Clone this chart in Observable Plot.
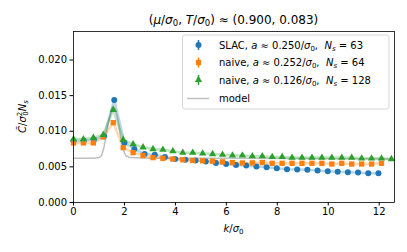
<!DOCTYPE html>
<html><head><meta charset="utf-8">
<script src="https://cdn.jsdelivr.net/npm/d3@7"></script>
<script src="https://cdn.jsdelivr.net/npm/@observablehq/plot@0.6"></script>
<style>body{margin:0;background:#fff}</style>
</head><body><div id="chart"></div>
<script>
// --- data ---
const slacK = [0,0.4,0.8,1.2,1.6,2.0,2.39,2.79,3.19,3.59,3.99,4.39,4.79,5.19,5.59,5.99,6.38,6.78,7.18,7.58,7.98,8.38,8.78,9.18,9.58,9.98,10.37,10.77,11.17,11.57,11.97];
const slacC = [0.0086,0.00868,0.00882,0.0093,0.0144,0.0084,0.0075,0.0068,0.0067,0.0064,0.0061,0.0060,0.00588,0.00574,0.00556,0.0054,0.00528,0.00518,0.00504,0.00494,0.0048,0.00468,0.00462,0.00458,0.00448,0.00438,0.0043,0.00424,0.0042,0.00412,0.0041];
const naive64K = [0,0.39,0.78,1.17,1.56,1.95,2.34,2.73,3.12,3.51,3.9,4.29,4.68,5.07,5.46,5.85,6.24,6.63,7.02,7.41,7.8,8.19,8.58,8.97,9.36,9.75,10.14,10.53,10.92,11.31,11.7,12.09];
const naive64C = [0.00836,0.00836,0.00836,0.0092,0.0112,0.0077,0.0070,0.0066,0.0063,0.0062,0.0061,0.0060,0.0059,0.00585,0.0058,0.0057,0.0056,0.00555,0.00556,0.0056,0.0055,0.0055,0.0055,0.0055,0.0055,0.0055,0.0054,0.0055,0.0054,0.0054,0.0054,0.0055];
const naive128K = [0,0.39,0.78,1.17,1.56,1.95,2.34,2.73,3.12,3.51,3.9,4.29,4.68,5.07,5.46,5.85,6.24,6.63,7.02,7.41,7.8,8.19,8.58,8.97,9.36,9.75,10.14,10.53,10.92,11.31,11.7,12.09,12.48];
const naive128C = [0.0089,0.0089,0.0091,0.0095,0.0130,0.0088,0.0082,0.00775,0.0075,0.0074,0.0072,0.0070,0.0070,0.0069,0.0068,0.0067,0.0066,0.0066,0.0065,0.0065,0.0064,0.0064,0.0063,0.0063,0.0063,0.0063,0.0063,0.0063,0.0063,0.0062,0.0062,0.0062,0.0061];
const modelK = [0,0.8,1.0,1.1,1.2,1.3,1.4,1.5,1.57,1.65,1.75,1.85,1.95,2.05,2.2,3.0,6.0,12.6];
const modelC = [0.0062,0.0062,0.0063,0.0066,0.0078,0.0098,0.0118,0.0132,0.0135,0.0130,0.0115,0.0092,0.0074,0.0066,0.0063,0.0062,0.0062,0.0061];
const xTicks = [0,2,4,6,8,10,12];
const yTicks = [0,0.005,0.010,0.015,0.020];

const toRows = (K, C) => K.map((k, i) => ({k, c: C[i]}));
const slac = toRows(slacK, slacC), n64 = toRows(naive64K, naive64C), n128 = toRows(naive128K, naive128C), model = toRows(modelK, modelC);

const blue = "#1f77b4", orange = "#ff7f0e", green = "#2ca02c", gray = "#bfbfbf";

const svg = Plot.plot({
  width: 407, height: 252,
  marginLeft: 73, marginRight: 13, marginTop: 31, marginBottom: 50,
  style: {fontFamily: "DejaVu Sans", fontSize: "10px", color: "black", background: "white", overflow: "visible"},
  x: {domain: [0, 12.6]},
  y: {domain: [0, 0.024]},
  marks: [
    Plot.line(model, {x: "k", y: "c", stroke: gray, strokeWidth: 1.5}),
    Plot.line(slac, {x: "k", y: "c", stroke: blue, strokeOpacity: 0.3, strokeWidth: 2.5}),
    Plot.line(n64, {x: "k", y: "c", stroke: orange, strokeOpacity: 0.3, strokeWidth: 2.5}),
    Plot.line(n128, {x: "k", y: "c", stroke: green, strokeOpacity: 0.3, strokeWidth: 2.5}),
    Plot.dot(slac, {x: "k", y: "c", symbol: "circle", r: 3, fill: blue}),
    Plot.dot(n64, {x: "k", y: "c", symbol: "square", r: 3, fill: orange}),
    Plot.dot(n128, {x: "k", y: "c", symbol: "triangle", r: 2.7, fill: green}),
    Plot.frame({stroke: "black", strokeWidth: 0.8}),
    Plot.axisX({ticks: xTicks, tickSize: 3.5, tickPadding: 2, label: null, fontSize: 10}),
    Plot.axisY({ticks: yTicks, tickSize: 3.5, tickPadding: 3, tickFormat: ".3f", label: null, fontSize: 10})
  ]
});
document.getElementById("chart").appendChild(svg);

const s = d3.select(svg);
// title
const t = s.append("text").attr("x", 233.5).attr("y", 24).attr("text-anchor", "middle")
  .attr("font-size", 12).attr("font-family", "DejaVu Sans");
t.append("tspan").text("(");
t.append("tspan").attr("font-style", "italic").text("μ");
t.append("tspan").text("/");
t.append("tspan").attr("font-style", "italic").text("σ");
t.append("tspan").attr("font-size", 8.5).attr("dy", 2).text("0");
t.append("tspan").attr("dy", -2).text(", ");
t.append("tspan").attr("font-style", "italic").text("T");
t.append("tspan").text("/");
t.append("tspan").attr("font-style", "italic").text("σ");
t.append("tspan").attr("font-size", 8.5).attr("dy", 2).text("0");
t.append("tspan").attr("dy", -2).text(") ≈ (0.900, 0.083)");

// x label
const xl = s.append("text").attr("x", 233.5).attr("y", 232).attr("text-anchor", "middle").attr("font-size", 10);
xl.append("tspan").attr("font-style", "italic").text("k");
xl.append("tspan").text("/");
xl.append("tspan").attr("font-style", "italic").text("σ");
xl.append("tspan").attr("font-size", 7).attr("dy", 2).text("0");

// y label
const yl = s.append("text").attr("transform", "translate(26,116.5) rotate(-90)").attr("text-anchor", "middle").attr("font-size", 10);
yl.append("tspan").attr("font-style", "italic").text("C\u0303");
yl.append("tspan").text("/");
yl.append("tspan").attr("font-style", "italic").text("σ");
yl.append("tspan").attr("font-size", 7).attr("dy", -4).text("2");
yl.append("tspan").attr("font-size", 7).attr("dx", -4).attr("dy", 6).text("0");
yl.append("tspan").attr("font-style", "italic").attr("dy", -2).text("N");
yl.append("tspan").attr("font-style", "italic").attr("font-size", 7).attr("dy", 2).text("s");

// legend
const lg = s.append("g").attr("font-size", 10).attr("text-anchor", "start");
lg.append("rect").attr("x", 182.5).attr("y", 35).attr("width", 206.5).attr("height", 74).attr("rx", 2.5)
  .style("fill", "white").style("fill-opacity", 0.8).style("stroke", "#cccccc").style("stroke-width", 0.8);
const items = [
  {color: blue, sym: d3.symbolCircle, r: 3, name: "SLAC", a: "0.250", n: "63"},
  {color: orange, sym: d3.symbolSquare, r: 3, name: "naive", a: "0.252", n: "64"},
  {color: green, sym: d3.symbolTriangle, r: 2.7, name: "naive", a: "0.126", n: "128"}
];
const rowY = [45, 62.5, 80, 98.5];
items.forEach((it, i) => {
  const y = rowY[i];
  lg.append("line").attr("x1", 198.5).attr("x2", 198.5).attr("y1", y - 5).attr("y2", y + 5).style("stroke", it.color).style("stroke-width", 1.5);
  lg.append("path").attr("d", d3.symbol(it.sym, it.r * it.r * Math.PI)()).attr("transform", `translate(198.5,${y})`).style("fill", it.color);
  const tx = lg.append("text").attr("x", 219).attr("y", y + 3.5).attr("text-anchor", "start");
  tx.append("tspan").text(it.name + ", ");
  tx.append("tspan").attr("font-style", "italic").text("a");
  tx.append("tspan").text(" ≈ " + it.a + "/");
  tx.append("tspan").attr("font-style", "italic").text("σ");
  tx.append("tspan").attr("font-size", 7).attr("dy", 2).text("0");
  tx.append("tspan").attr("dy", -2).text(",  ");
  tx.append("tspan").attr("font-style", "italic").text("N");
  tx.append("tspan").attr("font-style", "italic").attr("font-size", 7).attr("dy", 2).text("s");
  tx.append("tspan").attr("dy", -2).text(" = " + it.n);
});
lg.append("line").attr("x1", 187).attr("x2", 209).attr("y1", rowY[3]).attr("y2", rowY[3]).style("stroke", gray).style("stroke-width", 1.5);
lg.append("text").attr("x", 219).attr("y", rowY[3] + 3.5).attr("text-anchor", "start").text("model");
</script></body></html>
